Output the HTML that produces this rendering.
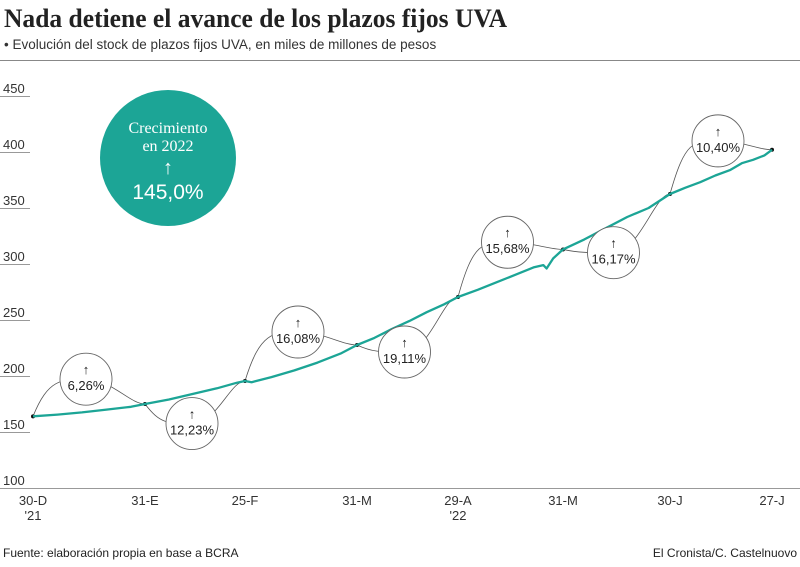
<!DOCTYPE html>
<html><head><meta charset="utf-8"><style>
body{margin:0;background:#fff;width:800px;height:562px;overflow:hidden;font-family:"Liberation Sans",sans-serif}
</style></head><body>
<svg id="chart" width="800" height="562" viewBox="0 0 800 562">
<text x="4" y="27" font-family="Liberation Serif,serif" font-weight="bold" font-size="26" fill="#222" textLength="503" lengthAdjust="spacingAndGlyphs">Nada detiene el avance de los plazos fijos UVA</text>
<text x="4" y="49" font-size="13.5" fill="#333">• Evolución del stock de plazos fijos UVA, en miles de millones de pesos</text>
<line x1="0" y1="60.5" x2="800" y2="60.5" stroke="#888" stroke-width="1"/>
<g id="yaxis"></g>
<g id="xaxis"></g>
<g id="connectors"></g>
<g id="series"></g>
<g id="notes"></g>
<g>
<circle cx="168" cy="158" r="68" fill="#1ca596"/>
<text x="168" y="133" text-anchor="middle" font-size="16" fill="#fff" font-family="Liberation Serif,serif">Crecimiento</text>
<text x="168" y="151" text-anchor="middle" font-size="16" fill="#fff" font-family="Liberation Serif,serif">en 2022</text>
<text x="168" y="174" text-anchor="middle" font-size="20" fill="#fff">↑</text>
<text x="168" y="199" text-anchor="middle" font-size="21" fill="#fff">145,0%</text>
</g>
<text x="3" y="557" font-size="12" fill="#222">Fuente: elaboración propia en base a BCRA</text>
<text x="797" y="557" font-size="12" fill="#222" text-anchor="end">El Cronista/C. Castelnuovo</text>
</svg>
<script>
const yTicks=[100,150,200,250,300,350,400,450];
const tickDays=[0,32,57,91,120,152,182,209];
const tickLabels=["30-D","31-E","25-F","31-M","29-A","31-M","30-J","27-J"];
const tickSub=["'21","","","","'22","","",""];
const days=[0,7,14,21,28,32,38,44,50,55,57,59,65,72,79,86,91,96,101,106,111,116,120,126,132,138,143,146,147,149,152,158,164,170,176,182,186,190,194,198,201,204,207,209];
const values=[164,165.5,167.5,170,172.5,175,179,184,189,194,195.5,194.5,199,205,212,220,227.7,234,242,249,257,264,270.5,277,284,291,297,299,296,305,313,322,332,342,350,362.5,368,373,379,384,390,393,397,402];
const anchorDays=[0,32,57,91,120,152,182,209];
const anchorValues=[164,175,195.5,227.7,270.5,313,362.5,402];
const growthLabels=["6,26%","12,23%","16,08%","19,11%","15,68%","16,17%","10,40%"];
const growthSide=[1,-1,1,-1,1,-1,1];
const tickPx=[33,145,245,357,458,563,670,772];
const NS="http://www.w3.org/2000/svg";
function x(d){for(let i=0;i<tickDays.length-1;i++){if(d<=tickDays[i+1]){const t=(d-tickDays[i])/(tickDays[i+1]-tickDays[i]);return tickPx[i]+t*(tickPx[i+1]-tickPx[i]);}}return tickPx[tickPx.length-1];}
function y(v){return 488-(v-100)*392/350;}
function mk(tag,attrs,parent){const e=document.createElementNS(NS,tag);for(const k in attrs)e.setAttribute(k,attrs[k]);parent.appendChild(e);return e;}
const ya=document.getElementById('yaxis');
yTicks.forEach(v=>{
 const t=mk('text',{x:3,y:y(v)-3,'font-size':13,fill:'#333'},ya);t.textContent=v;
 
 
 if(v>100){const l=mk('line',{x1:0,x2:30,y1:y(v)+0.5,y2:y(v)+0.5,stroke:'#999','stroke-width':1},ya);
 
 }
});
const xa=document.getElementById('xaxis');
const base=mk('line',{x1:0,x2:800,y1:488.5,y2:488.5,stroke:'#999','stroke-width':1},xa);


tickDays.forEach((d,i)=>{
 const t=mk('text',{x:x(d),y:505,'font-size':13,fill:'#333','text-anchor':'middle'},xa);t.textContent=tickLabels[i];
 
 
 if(tickSub[i]){const s=mk('text',{x:x(d),y:520,'font-size':13,fill:'#333','text-anchor':'middle'},xa);s.textContent=tickSub[i];
 
 }
});
const sg=document.getElementById('series');
const p=mk('path',{d:days.map((d,i)=>(i?'L':'M')+x(d).toFixed(1)+','+y(values[i]).toFixed(1)).join(''),fill:'none',stroke:'#1ca596','stroke-width':2.3,'stroke-linejoin':'round'},sg);


const cg=document.getElementById('connectors'),ng=document.getElementById('notes');
for(let i=0;i<growthLabels.length;i++){
 const x0=x(anchorDays[i]),y0=y(anchorValues[i]),x1=x(anchorDays[i+1]),y1=y(anchorValues[i+1]);
 const cx=(x0+x1)/2-3,cy=(y0+y1)/2-growthSide[i]*31;
 const c=mk('path',{d:`M${x0},${y0}C${x0+15},${cy} ${cx-25},${cy} ${cx},${cy}S${x1-15},${y1} ${x1},${y1}`,fill:'none',stroke:'#555','stroke-width':0.8},cg);
 
 
 const g=mk('g',{},ng);
 
 
 mk('circle',{cx:cx,cy:cy,r:26,fill:'#fff',stroke:'#666','stroke-width':0.9},g);
 const a=mk('text',{x:cx,y:cy-5,'text-anchor':'middle','font-size':13,fill:'#222'},g);a.textContent='↑';
 const t=mk('text',{x:cx,y:cy+11,'text-anchor':'middle','font-size':13,fill:'#222'},g);t.textContent=growthLabels[i];
}
anchorDays.forEach((d,i)=>{const dot=mk('circle',{cx:x(d),cy:y(anchorValues[i]),r:2,fill:'#111'},cg);
 
 });
</script>
</body></html>
